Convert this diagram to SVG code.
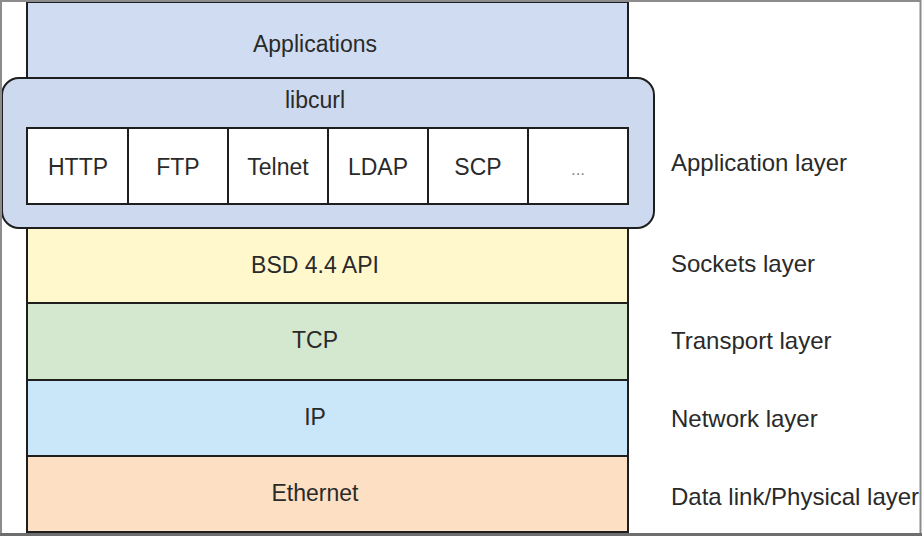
<svg xmlns="http://www.w3.org/2000/svg" width="922" height="536" viewBox="0 0 922 536">
<style>
.box{stroke:#1e1e1e;stroke-width:2}
.t{font-family:"Liberation Sans",Arial,sans-serif;font-size:23px;fill:#2a2a2a;text-anchor:middle}
.l{font-family:"Liberation Sans",Arial,sans-serif;font-size:24px;fill:#2a2a2a;text-anchor:start}
</style>
<rect x="0" y="0" width="922" height="536" fill="#ffffff"/>
<g id="applications">
<rect class="box" x="27" y="2" width="601" height="76" fill="#d0dcf1"/>
<text class="t" x="315" y="52">Applications</text>
</g>
<g id="libcurl">
<rect class="box" x="2" y="78" width="652" height="150" rx="17" ry="17" fill="#cdd9ef"/>
<text class="t" x="315" y="108">libcurl</text>
</g>
<g id="http">
<rect class="box" x="27" y="128" width="101" height="76" fill="#ffffff"/>
<text class="t" x="78" y="175">HTTP</text>
</g>
<g id="ftp">
<rect class="box" x="128" y="128" width="100" height="76" fill="#ffffff"/>
<text class="t" x="178" y="175">FTP</text>
</g>
<g id="telnet">
<rect class="box" x="228" y="128" width="100" height="76" fill="#ffffff"/>
<text class="t" x="278" y="175">Telnet</text>
</g>
<g id="ldap">
<rect class="box" x="328" y="128" width="100" height="76" fill="#ffffff"/>
<text class="t" x="378" y="175">LDAP</text>
</g>
<g id="scp">
<rect class="box" x="428" y="128" width="100" height="76" fill="#ffffff"/>
<text class="t" x="478" y="175">SCP</text>
</g>
<g id="more">
<rect class="box" x="528" y="128" width="100" height="76" fill="#ffffff"/>
<text class="t" x="578" y="175" style="font-size:17px;fill:#8a8a8a">...</text>
</g>
<g id="bsd">
<rect class="box" x="27" y="228" width="601" height="75" fill="#fff8cc"/>
<text class="t" x="315" y="273">BSD 4.4 API</text>
</g>
<g id="tcp">
<rect class="box" x="27" y="303" width="601" height="77" fill="#d3e8cf"/>
<text class="t" x="315" y="348">TCP</text>
</g>
<g id="ip">
<rect class="box" x="27" y="380" width="601" height="76" fill="#c9e7f8"/>
<text class="t" x="315" y="425">IP</text>
</g>
<g id="ethernet">
<rect class="box" x="27" y="456" width="601" height="76" fill="#fde0c3"/>
<text class="t" x="315" y="501">Ethernet</text>
</g>
<g id="layer-labels">
<text class="l" x="671" y="171">Application layer</text>
<text class="l" x="671" y="272">Sockets layer</text>
<text class="l" x="671" y="349">Transport layer</text>
<text class="l" x="671" y="427">Network layer</text>
<text class="l" x="671" y="505">Data link/Physical layer</text>
</g>
<g id="connectors"></g>
<rect x="1" y="1" width="919.5" height="533" fill="none" stroke="#8c8c8c" stroke-width="2"/>
<line x1="0" y1="534.5" x2="922" y2="534.5" stroke="#6e6e6e" stroke-width="3"/>
</svg>
